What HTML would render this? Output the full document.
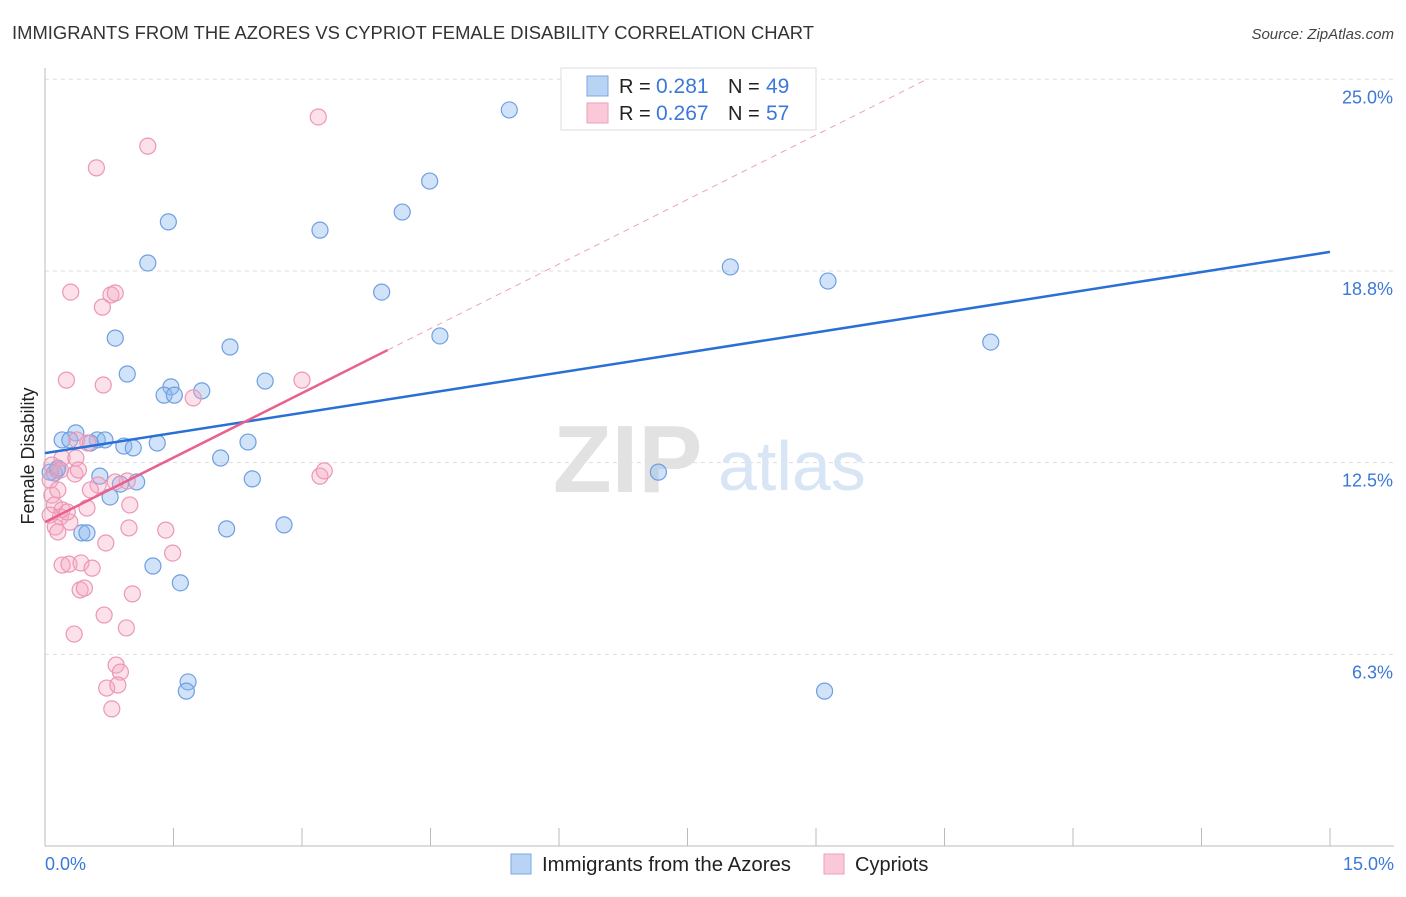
<!DOCTYPE html>
<html><head><meta charset="utf-8"><style>
body{margin:0;background:#fff;font-family:"Liberation Sans",sans-serif}
svg text{font-family:"Liberation Sans",sans-serif}
</style></head><body>
<svg id="c" width="1406" height="892"></svg>
<script>
const blueX=[5.42,4.49,4.17,3.21,1.44,1.20,3.93,8.00,9.14,11.04,4.61,0.82,2.16,0.96,2.57,1.47,1.39,1.51,1.83,0.36,0.20,0.29,0.61,0.70,0.53,0.92,1.03,1.31,2.37,2.05,7.16,0.14,0.11,0.64,0.88,1.07,2.42,0.76,0.43,0.49,2.12,2.79,1.26,1.58,1.67,1.65,9.10,0.06,0.15];
const blueY=[24.0,21.68,20.67,20.08,20.35,19.01,18.06,18.88,18.42,16.43,16.63,16.56,16.27,15.39,15.16,14.97,14.70,14.70,14.84,13.47,13.24,13.24,13.24,13.24,13.14,13.04,12.98,13.14,13.17,12.65,12.19,12.26,12.16,12.06,11.80,11.87,11.97,11.38,10.21,10.21,10.34,10.47,9.13,8.58,5.35,5.05,5.05,12.19,12.32];
const pinkX=[3.19,1.20,0.60,0.30,0.77,0.82,0.67,0.25,0.68,3.00,1.73,0.37,0.50,0.20,0.36,0.08,0.18,0.35,0.39,3.21,3.26,0.06,0.96,0.82,0.62,0.53,0.08,0.11,0.20,0.49,0.99,0.18,0.29,0.06,0.12,0.15,0.98,1.41,0.71,1.49,0.20,0.28,0.42,0.55,0.41,0.46,1.02,0.69,0.34,0.95,0.83,0.88,0.72,0.85,0.78,0.15,0.26];
const pinkY=[23.77,22.82,22.11,18.06,17.97,18.03,17.57,15.19,15.03,15.19,14.61,13.24,13.14,12.65,12.65,12.42,12.26,12.13,12.26,12.06,12.23,11.93,11.90,11.87,11.77,11.61,11.44,11.12,10.96,11.02,11.12,10.73,10.56,10.79,10.40,10.24,10.37,10.30,9.88,9.55,9.16,9.19,9.23,9.06,8.35,8.41,8.22,7.53,6.91,7.11,5.90,5.67,5.15,5.25,4.47,11.61,10.89];
const blueTrend=[12.81,19.37];
const pinkTrend=[10.56,16.17];
const yTicks=[25.0,18.75,12.5,6.25];
const yTickLabels=["25.0%","18.8%","12.5%","6.3%"];
const xs=v=>45+v/15*1285, ys=v=>846-v*30.67;
const svg=document.getElementById('c'),NS='http://www.w3.org/2000/svg';
function add(t,a,txt){const e=document.createElementNS(NS,t);for(const k in a)e.setAttribute(k,a[k]);if(txt!=null)e.textContent=txt;svg.appendChild(e);return e;}
let e;
e=add('text',{x:12,y:39,'font-size':18,fill:'#333',textLength:802,lengthAdjust:'spacingAndGlyphs'},'IMMIGRANTS FROM THE AZORES VS CYPRIOT FEMALE DISABILITY CORRELATION CHART');

e=add('text',{x:1394,y:39,'font-size':15,fill:'#444','font-style':'italic','text-anchor':'end'},'Source: ZipAtlas.com');

yTicks.forEach((v,i)=>{
e=add('line',{x1:45,x2:1394,y1:ys(v),y2:ys(v),stroke:'#ddd','stroke-dasharray':'4,4'});

e=add('text',{x:1393,y:ys(v)+24,'font-size':18,fill:'#3b78d8','text-anchor':'end'},yTickLabels[i]);
});
e=add('line',{x1:45,x2:45,y1:68,y2:846,stroke:'#bbb'});
e=add('line',{x1:45,x2:1394,y1:846,y2:846,stroke:'#bbb'});
for(let i=0;i<=10;i++){e=add('line',{x1:xs(i*1.5),x2:xs(i*1.5),y1:828,y2:846,stroke:'#bbb'});}
e=add('text',{x:45,y:870,'font-size':18,fill:'#3b78d8'},'0.0%');
e=add('text',{x:1394,y:870,'font-size':18,fill:'#3b78d8','text-anchor':'end'},'15.0%');
e=add('text',{x:34,y:456,'font-size':18,fill:'#222','text-anchor':'middle',transform:'rotate(-90 34 456)'},'Female Disability');

e=add('text',{x:553,y:492,'font-size':96,fill:'#e2e2e2','font-family':'Liberation Serif','font-weight':'bold'},'ZIP');
e=add('text',{x:718,y:490,'font-size':70,fill:'#d8e5f5'},'atlas');
blueX.forEach((v,i)=>{e=add('circle',{cx:xs(v),cy:ys(blueY[i]),r:8,fill:'rgba(140,185,240,0.4)',stroke:'#6f9fe0','stroke-width':1.2});
});
pinkX.forEach((v,i)=>{e=add('circle',{cx:xs(v),cy:ys(pinkY[i]),r:8,fill:'rgba(245,170,195,0.35)',stroke:'#eb97b5','stroke-width':1.2});
});
e=add('line',{x1:xs(0),y1:ys(blueTrend[0]),x2:xs(15),y2:ys(blueTrend[1]),stroke:'#2a6fd6','stroke-width':2.5});

const ps=(pinkTrend[1]-pinkTrend[0])/4;
e=add('line',{x1:xs(4),y1:ys(pinkTrend[1]),x2:xs((25-pinkTrend[0])/ps),y2:ys(25),stroke:'#f0a0bb','stroke-width':1,'stroke-dasharray':'6,5'});

e=add('line',{x1:xs(0),y1:ys(pinkTrend[0]),x2:xs(4),y2:ys(pinkTrend[1]),stroke:'#e8628f','stroke-width':2.5});

e=add('rect',{x:561,y:68,width:255,height:62,fill:'#fff',stroke:'#ddd'});
e=add('rect',{x:587,y:76,width:21,height:20,fill:'#b9d3f5',stroke:'#7aa7e4'});
e=add('rect',{x:587,y:103,width:21,height:20,fill:'#fac8d8',stroke:'#ee9fba'});
[['0.281','49',93],['0.267','57',120]].forEach(r=>{
e=add('text',{x:619,y:r[2],'font-size':20,fill:'#222'},'R = ');
e=add('text',{x:656,y:r[2],'font-size':21,fill:'#3b78d8'},r[0]);
e=add('text',{x:728,y:r[2],'font-size':20,fill:'#222'},'N = ');
e=add('text',{x:766,y:r[2],'font-size':21,fill:'#3b78d8'},r[1]);});
e=add('rect',{x:511,y:854,width:20,height:20,fill:'#b9d3f5',stroke:'#7aa7e4'});
e=add('text',{x:542,y:871,'font-size':20,fill:'#222',textLength:249,lengthAdjust:'spacingAndGlyphs'},'Immigrants from the Azores');
e=add('rect',{x:824,y:854,width:20,height:20,fill:'#fac8d8',stroke:'#ee9fba'});
e=add('text',{x:855,y:871,'font-size':20,fill:'#222'},'Cypriots');
</script>
</body></html>
